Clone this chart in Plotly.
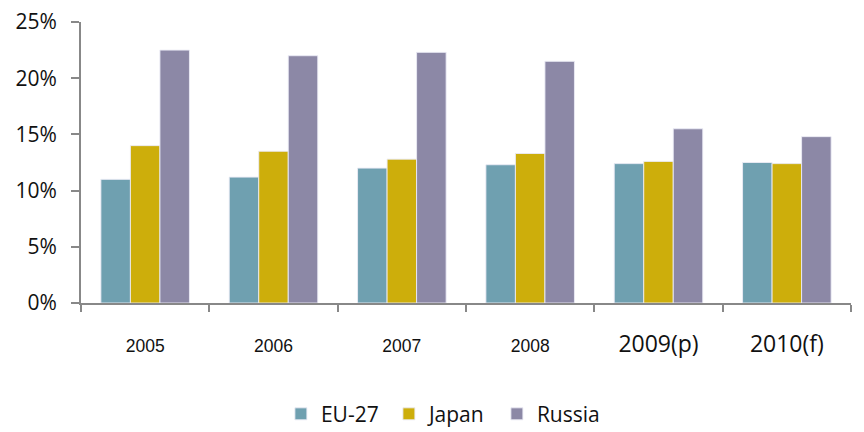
import plotly.graph_objects as go

categories = ["2005", "2006", "2007", "2008", "2009(p)", "2010(f)"]
tick_labels = [
    '<span style="font-family:Liberation Sans;font-size:17.5px">2005</span>',
    '<span style="font-family:Liberation Sans;font-size:17.5px">2006</span>',
    '<span style="font-family:Liberation Sans;font-size:17.5px">2007</span>',
    '<span style="font-family:Liberation Sans;font-size:17.5px">2008</span>',
    '2009(p)',
    '2010(f)',
]
eu27 = [11.0, 11.2, 12.0, 12.3, 12.4, 12.5]
japan = [14.0, 13.5, 12.8, 13.3, 12.6, 12.4]
russia = [22.5, 22.0, 22.3, 21.5, 15.5, 14.8]

series = [("EU-27", eu27, "#6fa0b0"), ("Japan", japan, "#cdae0b"), ("Russia", russia, "#8c88a6")]

fig = go.Figure()
for name, vals, col in series:
    fig.add_trace(go.Bar(
        x=categories, y=vals, name=name,
        marker=dict(color=col, line=dict(color="rgba(235,235,245,0.9)", width=1)),
    ))

# page body has an 8px margin, so the figure is sized to fit the 864x432 window
fig.update_layout(
    width=856, height=424,
    margin=dict(l=73, r=13, t=14, b=129),
    paper_bgcolor="white", plot_bgcolor="white",
    barmode="group", bargap=0.31, bargroupgap=0,
    font=dict(family="Open Sans", size=19, color="#111"),
    showlegend=True,
    legend=dict(orientation="h", x=0.47, xanchor="center",
                yref="container", y=0.042, yanchor="middle",
                font=dict(size=21, family="Open Sans"), traceorder="normal",
                entrywidth=63),
    xaxis=dict(
        type="category", tickson="boundaries", ticks="outside", ticklen=7,
        tickcolor="#888", tickwidth=2,
        tickvals=categories, ticktext=tick_labels,
        showline=True, linecolor="#888", linewidth=2,
        showgrid=False, ticklabelstandoff=19, automargin=False,
        ticklabeloverflow="allow",
        tickfont=dict(size=23, family="Open Sans", color="#111"),
    ),
    yaxis=dict(
        range=[0, 25], tickvals=[0, 5, 10, 15, 20, 25],
        ticktext=["0%", "5%", "10%", "15%", "20%", "25%"],
        ticks="outside", ticklen=8, tickcolor="#888", tickwidth=2,
        showline=True, linecolor="#888", linewidth=2,
        showgrid=False, zeroline=False, automargin=False,
        ticklabelstandoff=10, ticklabeloverflow="allow",
        tickfont=dict(size=21, family="Open Sans", color="#111"),
    ),
)

fig.write_html("out.html")
